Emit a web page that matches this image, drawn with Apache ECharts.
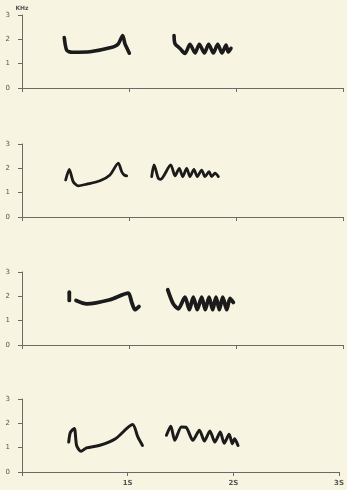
<!DOCTYPE html>
<html>
<head>
<meta charset="utf-8">
<script src="https://cdn.jsdelivr.net/npm/echarts@6/dist/echarts.min.js"></script>
<style>
  html, body { margin: 0; padding: 0; background: #f7f4e1; }
  #chart { width: 347px; height: 490px; }
</style>
</head>
<body>
<div id="chart"></div>
<script>
// time (s), frequency (kHz) traces
const song1Note = [[0.395, 2.07], [0.418, 1.55], [0.467, 1.47], [0.636, 1.49], [0.822, 1.65], [0.897, 1.80], [0.941, 2.16], [0.963, 1.80], [1.003, 1.43]]
const song1Trill = [[1.421, 2.16], [1.430, 1.82], [1.477, 1.62], [1.523, 1.42], [1.570, 1.80], [1.617, 1.44], [1.657, 1.80], [1.704, 1.44], [1.745, 1.80], [1.788, 1.44], [1.829, 1.80], [1.869, 1.44], [1.907, 1.76], [1.928, 1.48], [1.953, 1.63]]

const song2Note = [[0.408, 1.52], [0.442, 1.96], [0.479, 1.45], [0.526, 1.28], [0.605, 1.35], [0.729, 1.49], [0.822, 1.73], [0.900, 2.21], [0.932, 1.86], [0.953, 1.73], [0.978, 1.69]]
const song2Trill = [[1.212, 1.66], [1.234, 2.14], [1.274, 1.59], [1.296, 1.55], [1.390, 2.14], [1.430, 1.69], [1.470, 2.00], [1.502, 1.66], [1.539, 2.00], [1.570, 1.66], [1.607, 1.96], [1.638, 1.66], [1.679, 1.93], [1.710, 1.66], [1.748, 1.86], [1.773, 1.66], [1.804, 1.80], [1.835, 1.66]]

const song3Click = [[0.442, 1.83], [0.442, 2.17]]
const song3Note = [[0.505, 1.83], [0.605, 1.69], [0.822, 1.86], [0.993, 2.13], [1.025, 1.76], [1.056, 1.45], [1.093, 1.58]]
const song3Trill = [[1.362, 2.27], [1.414, 1.69], [1.461, 1.49], [1.523, 1.97], [1.564, 1.45], [1.601, 1.97], [1.638, 1.45], [1.679, 1.97], [1.713, 1.45], [1.748, 1.97], [1.782, 1.45], [1.813, 1.97], [1.844, 1.45], [1.876, 1.97], [1.913, 1.45], [1.944, 1.91], [1.975, 1.75]]

const song4Note = [[0.442, 1.23], [0.458, 1.63], [0.495, 1.79], [0.517, 1.09], [0.558, 0.85], [0.610, 0.99], [0.729, 1.09], [0.885, 1.37], [1.047, 1.95], [1.096, 1.44], [1.140, 1.09]]
const song4Trill = [[1.367, 1.51], [1.408, 1.88], [1.446, 1.30], [1.508, 1.85], [1.551, 1.84], [1.617, 1.30], [1.679, 1.72], [1.726, 1.27], [1.778, 1.69], [1.825, 1.23], [1.876, 1.64], [1.913, 1.18], [1.960, 1.55], [1.991, 1.16], [2.012, 1.37], [2.044, 1.09]]

const xTickLabels = ['', '1S', '2S', '3S']
const yTickLabels = ['0', '1', '2', '3']

const panels = [
  { traces: [song1Note, song1Trill], width: 3.6 },
  { traces: [song2Note, song2Trill], width: 2.8 },
  { traces: [song3Click, song3Note, song3Trill], width: 3.8 },
  { traces: [song4Note, song4Trill], width: 3.0 }
]

const axisColor = '#6a6a66'
const textColor = '#555'

const chart = echarts.init(document.getElementById('chart'))

const grid = [], xAxis = [], yAxis = [], series = []
panels.forEach((p, i) => {
  const top = [15, 144, 272, 399][i]
  grid.push({ left: 22, right: 4, top: top, height: 73 })
  xAxis.push({
    gridIndex: i,
    type: 'value',
    min: 0, max: 3, interval: 1,
    axisLine: { show: true, lineStyle: { color: axisColor, width: 1 } },
    axisTick: { show: true, length: 4, lineStyle: { color: axisColor } },
    splitLine: { show: false },
    axisLabel: {
      show: i === 3,
      color: textColor, fontSize: 7, fontFamily: 'DejaVu Sans', fontWeight: 'bold',
      margin: 8,
      formatter: v => xTickLabels[Math.round(v)]
    }
  })
  yAxis.push({
    gridIndex: i,
    type: 'value',
    min: 0, max: 3, interval: 1,
    name: i === 0 ? 'KHz' : '',
    nameGap: 3,
    nameTextStyle: { color: textColor, fontSize: 6, fontFamily: 'DejaVu Sans', fontWeight: 'bold', align: 'center', padding: [0, 0, 0, 0] },
    axisLine: { show: true, lineStyle: { color: axisColor, width: 1 } },
    axisTick: { show: true, length: 4, lineStyle: { color: axisColor } },
    splitLine: { show: false },
    axisLabel: {
      color: textColor, fontSize: 7, fontFamily: 'DejaVu Sans',
      margin: 12,
      formatter: v => yTickLabels[Math.round(v)]
    }
  })
  p.traces.forEach(tr => {
    series.push({
      type: 'line',
      xAxisIndex: i, yAxisIndex: i,
      data: tr,
      smooth: 0.25,
      symbol: 'none',
      silent: true,
      lineStyle: { color: '#1b1b1b', width: p.width, cap: 'round', join: 'round' }
    })
  })
})

chart.setOption({
  backgroundColor: '#f7f4e1',
  animation: false,
  grid, xAxis, yAxis, series
})
</script>
</body>
</html>
